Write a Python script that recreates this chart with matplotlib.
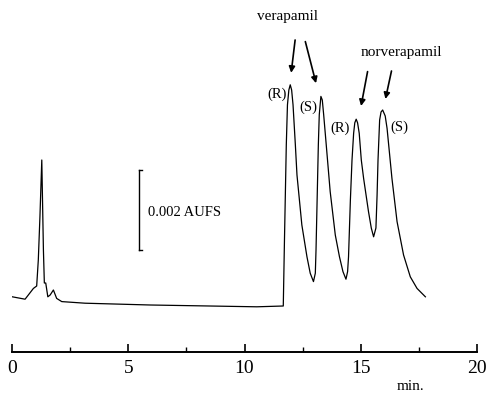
import matplotlib
matplotlib.use("Agg")
import matplotlib.pyplot as plt

plt.rcParams['font.family'] = ['Liberation Serif', 'DejaVu Serif']

# Chromatogram trace: time (min) and absorbance (mAU)
time_min = [0.00, 0.55, 0.69, 0.91, 1.05, 1.12, 1.19, 1.27, 1.34, 1.38, 1.44, 1.53,
            1.63, 1.77, 1.91, 2.13, 3.13, 5.94, 10.53, 11.67,
            11.72, 11.80, 11.85, 11.91, 11.97, 12.03, 12.09, 12.19, 12.26, 12.47, 12.69, 12.83,
            12.97, 13.05, 13.08, 13.18, 13.22, 13.29, 13.35, 13.41, 13.52,
            13.69, 13.91, 14.09, 14.24, 14.37, 14.44, 14.48, 14.56, 14.63, 14.70,
            14.75, 14.81, 14.87, 14.94, 15.03, 15.13, 15.34, 15.46, 15.56, 15.66, 15.71, 15.75,
            15.82, 15.88, 15.95, 16.06, 16.14, 16.35, 16.57, 16.85, 17.14, 17.43, 17.79]
signal_mau = [0.33, 0.27, 0.375, 0.54, 0.60, 1.25, 2.33, 3.75, 1.50, 0.675, 0.675, 0.33,
              0.375, 0.50, 0.29, 0.21, 0.17, 0.125, 0.08, 0.10,
              1.71, 4.13, 5.13, 5.50, 5.63, 5.50, 5.13, 4.13, 3.375, 2.125, 1.33, 0.92,
              0.71, 0.92, 1.50, 4.13, 4.88, 5.34, 5.25, 4.88, 4.13,
              2.96, 1.875, 1.33, 0.96, 0.77, 0.96, 1.33, 2.75, 3.75, 4.42,
              4.68, 4.77, 4.68, 4.42, 3.75, 3.29, 2.46, 2.05, 1.83, 2.05, 2.875, 3.75,
              4.75, 4.95, 5.00, 4.85, 4.54, 3.29, 2.21, 1.375, 0.83, 0.54, 0.33]

x_ticks = [0, 5, 10, 15, 20]
x_tick_labels = ['0', '5', '10', '15', '20']
minor_ticks = [2.5, 7.5, 12.5, 17.5]

W, H = 486, 398
fig = plt.figure(figsize=(W / 100, H / 100), dpi=100)
ax = fig.add_axes([12.3 / W, (H - 352) / H, (476.7 - 12.3) / W, 352 / H])

ax.plot(time_min, signal_mau, color='black', lw=0.9, solid_joinstyle='round')

ax.set_xlim(0, 20)
ax.set_ylim(-1.05, 7.75)
for side in ['top', 'right', 'left']:
    ax.spines[side].set_visible(False)
ax.spines['bottom'].set_linewidth(1.4)
ax.set_yticks([])
ax.set_xticks(x_ticks)
ax.set_xticklabels(x_tick_labels, fontsize=14)
ax.set_xticks(minor_ticks, minor=True)
ax.tick_params(axis='x', which='major', direction='in', length=6, width=1.2, pad=6)
ax.tick_params(axis='x', which='minor', direction='in', length=3.5, width=1.0)

ax.text(17.15, -1.9, 'min.', fontsize=11, ha='center', va='center', clip_on=False)

# scale bar
ax.plot([5.47, 5.47], [1.5, 3.5], color='black', lw=1.0)
ax.plot([5.47, 5.58], [3.5, 3.5], color='black', lw=1.0)
ax.plot([5.47, 5.58], [1.5, 1.5], color='black', lw=1.0)
ax.text(5.85, 2.43, '0.002 AUFS', fontsize=10.5, ha='left', va='center')

# labels
ax.text(11.84, 7.33, 'verapamil', fontsize=11, ha='center', va='center')
ax.text(16.75, 6.43, 'norverapamil', fontsize=11, ha='center', va='center')
ap = dict(arrowstyle='-|>', lw=1.2, mutation_scale=9, color='black', shrinkA=0, shrinkB=0)
for (tx, ty, hx, hy) in [(12.18, 6.75, 12.01, 5.93), (12.62, 6.71, 13.08, 5.67),
                         (15.30, 5.96, 15.02, 5.10), (16.33, 5.975, 16.07, 5.275)]:
    ax.annotate('', xy=(hx, hy), xytext=(tx, ty), arrowprops=ap)

for (lx, ly, lab) in [(11.40, 5.4, '(R)'), (12.73, 5.08, '(S)'),
                      (14.12, 4.55, '(R)'), (16.68, 4.58, '(S)')]:
    ax.text(lx, ly, lab, fontsize=10.5, ha='center', va='center')

fig.savefig('out.png', dpi=100)
